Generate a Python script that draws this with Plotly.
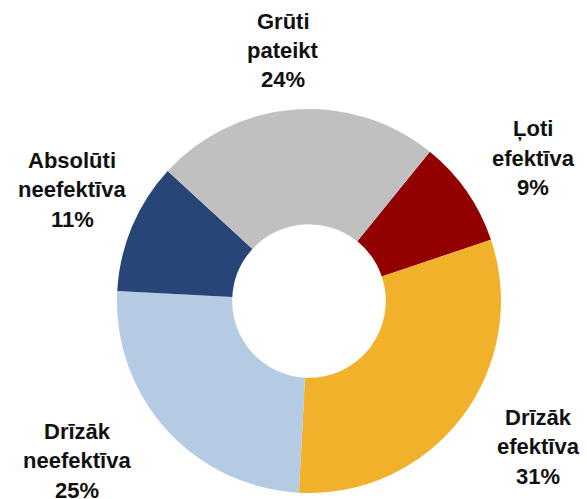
import plotly.graph_objects as go

labels = ["Ļoti efektīva", "Drīzāk efektīva", "Drīzāk neefektīva", "Absolūti neefektīva", "Grūti pateikt"]
label_lines = [["Ļoti", "efektīva"], ["Drīzāk", "efektīva"], ["Drīzāk", "neefektīva"],
               ["Absolūti", "neefektīva"], ["Grūti", "pateikt"]]
values = [9, 31, 25, 11, 24]
colors = ["#930000", "#F2B12A", "#B5CAE3", "#274677", "#C0C0C0"]

W, H = 587, 499
# label centre positions (pixels): x, y of first line
label_pos = [(533, 129), (538, 417), (77, 431), (72, 160), (283, 21)]
line_gap = 29.5

fig = go.Figure(go.Pie(
    labels=labels, values=values, sort=False, direction="clockwise",
    rotation=39, hole=0.40,
    marker=dict(colors=colors, line=dict(width=0)),
    textinfo="none", hoverinfo="label+percent", showlegend=False,
    domain=dict(x=[117 / W, 501 / W], y=[(H - 493) / H, (H - 109) / H]),
))

annotations = []
for lines, v, (px, py) in zip(label_lines, values, label_pos):
    for i, t in enumerate(lines + [f"{v}%"]):
        annotations.append(dict(
            x=px / W, y=1 - (py + i * line_gap) / H, xref="paper", yref="paper",
            text=t, showarrow=False, xanchor="center", yanchor="middle",
            font=dict(family="Liberation Sans, Arial, sans-serif", size=22, color="#111111", weight="bold"),
        ))

fig.update_layout(
    width=W, height=H, margin=dict(l=0, r=0, t=0, b=0),
    paper_bgcolor="white", plot_bgcolor="white",
    annotations=annotations,
)
fig.write_html("out.html", config={"displayModeBar": False},
               post_script="document.body.style.margin='0';document.body.style.overflow='hidden';")
